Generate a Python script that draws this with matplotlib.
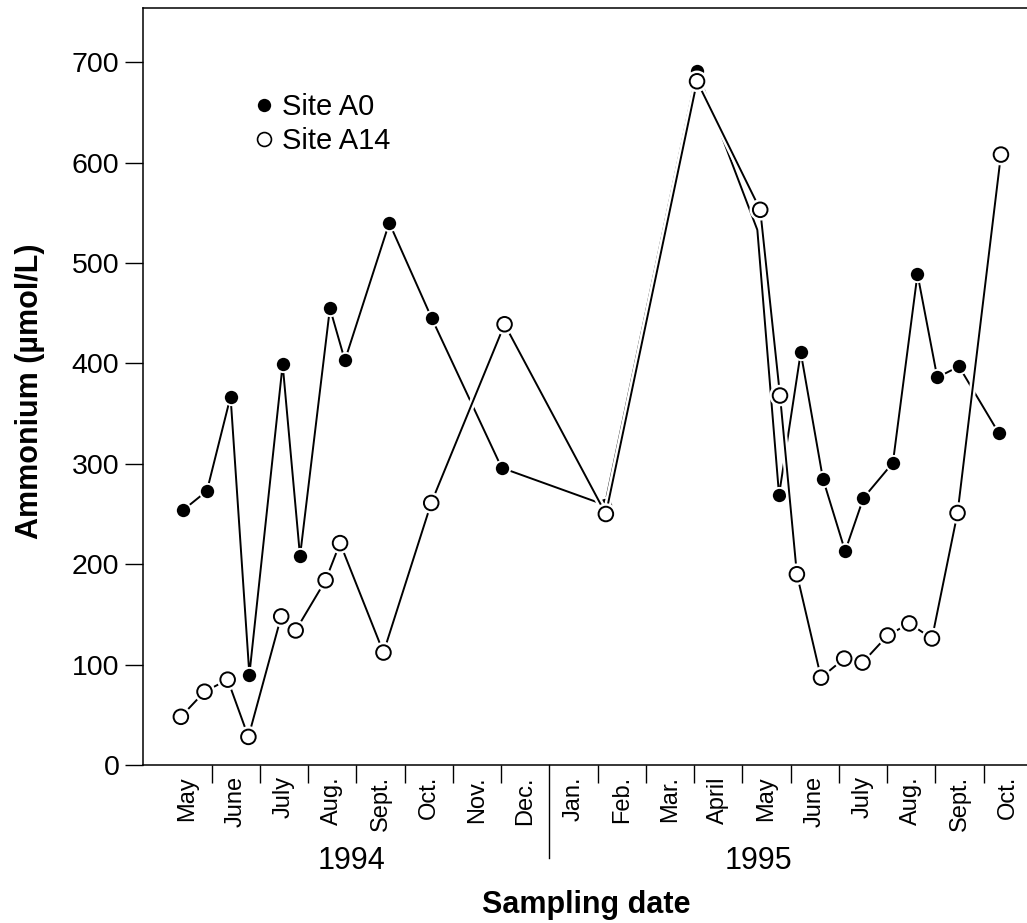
import matplotlib
matplotlib.use("Agg")
import matplotlib.pyplot as plt
import matplotlib.patheffects as pe
from matplotlib.lines import Line2D

plt.rcParams['font.family'] = ['Liberation Sans', 'DejaVu Sans']

# Month axis: position 0 is the start of May 1994, one unit per month
month_labels = ['May', 'June', 'July', 'Aug.', 'Sept.', 'Oct.', 'Nov.', 'Dec.',
                'Jan.', 'Feb.', 'Mar.', 'April', 'May', 'June', 'July', 'Aug.',
                'Sept.', 'Oct.']
year_labels = ['1994', '1995']
year_label_pos = [3.9, 12.33]
year_break = 8

# Site A0 (filled symbols)
a0_month = [0.41, 0.90, 1.39, 1.78, 2.47, 2.83, 3.45, 3.76, 4.68, 5.56, 7.01,
            9.15, 11.06, 12.31, 12.76, 13.21, 13.67, 14.13, 14.51, 15.12,
            15.63, 16.04, 16.49, 17.31]
a0_nh4 = [254, 273, 367, 90, 399, 208, 455, 403, 540, 445, 296,
          259, 691, 533, 269, 411, 285, 213, 266, 301,
          489, 386, 397, 331]
a0_no_marker = [13]

# Site A14 (open symbols)
a14_month = [0.36, 0.85, 1.33, 1.76, 2.44, 2.74, 3.36, 3.66, 4.56, 5.55, 7.07,
             9.17, 11.06, 12.37, 12.78, 13.13, 13.63, 14.11, 14.49, 15.01,
             15.46, 15.93, 16.46, 17.36]
a14_nh4 = [48, 73, 85, 28, 148, 134, 184, 221, 112, 261, 439,
           250, 681, 553, 368, 190, 87, 106, 102, 129,
           141, 126, 251, 608]

fig = plt.figure(figsize=(10.27, 9.23), dpi=100)
ax = fig.add_axes([143 / 1027, 158 / 923, (1027 - 143) / 1027, (765 - 8) / 923])

lw = 1.4
shown = [i for i in range(len(a0_nh4)) if i not in a0_no_marker]
ax.plot(a0_month, a0_nh4, color='black', lw=lw, marker='o', markevery=shown,
        markersize=11.0, markerfacecolor='black', markeredgecolor='white',
        markeredgewidth=1.4, zorder=2)
ax.plot(a14_month, a14_nh4, color='black', lw=lw, marker='o',
        markersize=10.5, markerfacecolor='white', markeredgecolor='black',
        markeredgewidth=1.4, zorder=3,
        path_effects=[pe.Stroke(linewidth=5, foreground='white'), pe.Normal()])

ax.set_xlim(-0.425, 17.9)
ax.set_ylim(0, 754)

ax.spines['right'].set_visible(False)
for side in ['left', 'bottom', 'top']:
    ax.spines[side].set_linewidth(1.1)

ax.set_yticks([0, 100, 200, 300, 400, 500, 600, 700])
ax.tick_params(axis='y', direction='out', length=13, width=1.0, pad=4,
               labelsize=20.5)

centers = [i + 0.5 for i in range(len(month_labels))]
ax.set_xticks(centers)
ax.set_xticklabels(month_labels, rotation=90, fontsize=17)
ax.tick_params(axis='x', which='major', length=0, pad=8)
bounds = [i for i in range(1, len(month_labels)) if i != year_break]
ax.set_xticks(bounds, minor=True)
ax.tick_params(axis='x', which='minor', direction='out', length=13, width=1.0)

# Long divider between the two years
ax.plot([year_break, year_break], [0, -0.123], color='black', lw=1.0,
        transform=ax.get_xaxis_transform(), clip_on=False)
for lab, pos in zip(year_labels, year_label_pos):
    ax.text(pos, -0.127, lab, transform=ax.get_xaxis_transform(),
            ha='center', va='center', fontsize=22)

fig.text(586 / 1027, 1 - 905 / 923, 'Sampling date', ha='center',
         va='center', fontsize=22, fontweight='bold')
fig.text(30 / 1027, 1 - 391 / 923, 'Ammonium (µmol/L)', ha='center',
         va='center', rotation=90, fontsize=22, fontweight='bold')

handles = [
    Line2D([], [], ls='none', marker='o', markersize=11.0,
           markerfacecolor='black', markeredgecolor='white',
           markeredgewidth=1.4),
    Line2D([], [], ls='none', marker='o', markersize=10.0,
           markerfacecolor='white', markeredgecolor='black',
           markeredgewidth=1.2),
]
ax.legend(handles, ['Site A0', 'Site A14'], loc='upper left',
          bbox_to_anchor=(0.111, 0.907), frameon=False, fontsize=21,
          handlelength=0.6, handletextpad=0.3, labelspacing=0.2,
          borderpad=0)

fig.savefig('out.png', dpi=100)
